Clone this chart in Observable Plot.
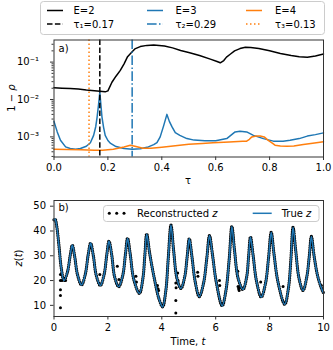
<!DOCTYPE html>
<html><head><meta charset="utf-8">
<script src="https://cdn.jsdelivr.net/npm/d3@7"></script>
<script src="https://cdn.jsdelivr.net/npm/@observablehq/plot@0.6"></script>
<style>
html,body{margin:0;padding:0;background:#fff}
#fig{position:relative;width:333px;height:350px;overflow:hidden;font-family:"DejaVu Sans",sans-serif}
#fig svg{position:absolute;left:0;top:0}
</style></head><body><div id="fig"></div>
<script>
// ---------- Panel a) data : 1 - rho vs tau ----------
const seriesNames = ["E=2", "E=3", "E=4"];
const optTau = [0.17, 0.29, 0.13];
const tauE2 = [0,0.03,0.06,0.09,0.12,0.15,0.17,0.19,0.20,0.215,0.23,0.246,0.26,0.273,0.29,0.30,0.32,0.345,0.37,0.39,0.41,0.44,0.47,0.50,0.54,0.58,0.605,0.617,0.63,0.64,0.655,0.67,0.69,0.71,0.73,0.76,0.80,0.84,0.88,0.91,0.94,0.97,1.0];
const rhoE2 = [0.0205,0.0200,0.0196,0.0192,0.0180,0.0172,0.0166,0.0160,0.0170,0.029,0.042,0.060,0.090,0.140,0.19,0.225,0.26,0.28,0.285,0.28,0.27,0.24,0.205,0.18,0.15,0.12,0.104,0.096,0.110,0.136,0.165,0.200,0.230,0.250,0.245,0.230,0.200,0.170,0.150,0.140,0.135,0.145,0.165];
const tauE3 = [0,0.012,0.024,0.043,0.06,0.08,0.098,0.12,0.135,0.147,0.155,0.16,0.165,0.17,0.175,0.178,0.184,0.19,0.20,0.21,0.23,0.26,0.29,0.32,0.35,0.37,0.382,0.394,0.407,0.419,0.428,0.438,0.45,0.467,0.493,0.52,0.56,0.60,0.641,0.672,0.69,0.715,0.74,0.777,0.814,0.85,0.876,0.91,0.94,0.97,1.0];
const rhoE3 = [2.6e-3,1.36e-3,8.1e-4,5.4e-4,4.9e-4,4.7e-4,4.9e-4,5.6e-4,7.0e-4,1.1e-3,1.9e-3,3.4e-3,7e-3,1.55e-2,6e-3,3.4e-3,1.8e-3,1.1e-3,8.0e-4,6.7e-4,5.5e-4,4.9e-4,4.7e-4,4.8e-4,5.4e-4,6.2e-4,7.0e-4,1.0e-3,2.0e-3,4.0e-3,2.6e-3,1.85e-3,1.3e-3,1.1e-3,9.0e-4,8.2e-4,7.9e-4,7.9e-4,9.0e-4,1.36e-3,1.42e-3,1.36e-3,1.1e-3,9.0e-4,7.7e-4,7.6e-4,8.1e-4,9.0e-4,1.05e-3,1.15e-3,1.28e-3];
const tauE4 = [0,0.05,0.10,0.15,0.18,0.22,0.26,0.283,0.30,0.33,0.36,0.40,0.45,0.50,0.55,0.59,0.65,0.70,0.715,0.725,0.734,0.75,0.765,0.78,0.795,0.81,0.82,0.84,0.864,0.89,0.925,0.96,1.0];
const rhoE4 = [4.7e-4,4.6e-4,4.5e-4,4.4e-4,4.4e-4,4.7e-4,5.4e-4,6.0e-4,5.6e-4,5.0e-4,5.0e-4,5.3e-4,5.8e-4,6.4e-4,6.7e-4,7.0e-4,7.3e-4,7.6e-4,7.7e-4,8.6e-4,1.0e-3,1.05e-3,1.06e-3,1.0e-3,8.1e-4,6.8e-4,6.0e-4,5.7e-4,5.6e-4,5.7e-4,6.3e-4,6.8e-4,7.4e-4];
const xTicksA = [0, 0.2, 0.4, 0.6, 0.8, 1.0];
const yTicksA = [1e-3, 1e-2, 1e-1];

// ---------- Panel b) data : z(t) ----------
const zTime = [0.00,0.04,0.10,0.18,0.27,0.37, 0.50,0.60,0.68,0.77,0.87,1.02, 1.16,1.27,1.36,1.46,1.57,1.72, 1.86,1.96,2.04,2.14,2.25,2.40, 2.55,2.65,2.73,2.83,2.96,3.17, 3.30,3.37,3.44,3.55,3.72,3.90,4.03, 4.15,4.24,4.34,4.44,4.56,4.71, 4.85,4.94,5.02,5.12,5.24,5.39, 5.55,5.67,5.77,5.88,6.02,6.24, 6.38,6.50,6.60,6.70,6.83,7.01, 7.15,7.22,7.29,7.39,7.51,7.69, 7.85,7.96,8.06,8.16,8.31,8.56, 8.70,8.79,8.87,8.97,9.09,9.24, 9.38,9.47,9.55,9.65,9.78,9.92,10.0];
const zTrue = [44.5,44.8,42.0,34.5,25.0,20.0, 23.5,30.0,34.3,29.5,22.5,18.2, 22.5,30.5,35.1,30.0,22.0,18.0, 22.5,30.5,35.9,30.5,21.5,17.5, 22.0,30.5,37.1,30.5,20.5,14.8, 21.0,30.0,38.8,31.0,21.0,12.5,9.4, 16.0,29.0,42.4,32.0,21.0,16.8, 21.5,29.5,36.9,29.5,19.5,13.5, 19.0,29.0,38.2,30.5,19.5,9.8, 16.0,28.5,41.8,32.0,21.0,16.4, 21.5,29.5,37.6,30.0,20.0,13.3, 19.0,29.0,39.5,31.0,19.5,10.4, 17.0,28.5,41.5,32.0,21.0,16.0, 21.5,29.5,37.8,30.0,22.0,17.0,15.0];
const recT = [0.24,0.24,0.24,0.24,0.24,0.30,0.43,1.70,2.35,2.41,3.04,3.06,3.84,3.86,3.88,4.52,4.52,4.52,4.53,4.59,4.60,5.33,5.34,6.14,6.15,6.82,6.83,6.85,6.88,6.87,7.67,8.50,9.92];
const recZ = [22.4,20.0,16.3,14.0,9.0,20.0,20.0,22.4,25.8,20.4,21.7,19.4,18.0,16.7,16.0,12.0,6.9,19.0,17.1,23.0,20.0,23.4,21.7,20.0,18.0,23.8,17.6,16.7,17.1,16.0,19.4,17.6,18.0];
const xTicksB = [0, 2, 4, 6, 8, 10];
const yTicksB = [10, 20, 30, 40, 50];

// ---------- styling ----------
const W = 333, H = 350;
const C = {black: "black", blue: "#1f77b4", orange: "#ff7f0e"};
const colors = [C.black, C.blue, C.orange];
const dashes = ["5.5,2.4", "9.6,2.4,1.5,2.4", "1.5,2.5"];
const axisColor = "#333";
const baseStyle = {fontFamily: "DejaVu Sans", fontSize: "10px", color: "black", background: "none", overflow: "visible"};
const supMap = {"-": "⁻", "0": "⁰", "1": "¹", "2": "²", "3": "³", "4": "⁴", "5": "⁵"};
const fmtPow = d => "10" + String(Math.round(Math.log10(d))).split("").map(c => supMap[c]).join("");
const subMap = ["₁", "₂", "₃"];

const rowsOf = (xs, ys) => xs.map((x, i) => ({x, y: ys[i]}));
const e2 = rowsOf(tauE2, rhoE2), e3 = rowsOf(tauE3, rhoE3), e4 = rowsOf(tauE4, rhoE4);
const yDomA = [2.9e-4, 0.39];
const minorA = [];
for (let e = -4; e <= -1; e++) for (let m = 2; m <= 9; m++) {
  const v = m * Math.pow(10, e);
  if (v >= yDomA[0] && v <= yDomA[1]) minorA.push(v);
}

const plotA = Plot.plot({
  width: W, height: H,
  marginLeft: 53.5, marginRight: 10, marginTop: 39.5, marginBottom: H - 156.5,
  x: {domain: [0, 1]},
  y: {type: "log", domain: yDomA},
  style: baseStyle,
  marks: [
    Plot.line(e2, {x: "x", y: "y", stroke: colors[0], strokeWidth: 1.5}),
    Plot.line(e3, {x: "x", y: "y", stroke: colors[1], strokeWidth: 1.5}),
    Plot.line(e4, {x: "x", y: "y", stroke: colors[2], strokeWidth: 1.5}),
    ...optTau.map((t, i) => Plot.ruleX([t], {stroke: colors[i], strokeWidth: 1.5, strokeDasharray: dashes[i]})),
    Plot.axisX({ticks: xTicksA, tickFormat: d3.format(".1f"), tickSize: 3.5, tickPadding: 3.5, label: null, stroke: axisColor}),
    Plot.axisY({ticks: yTicksA, tickFormat: fmtPow, tickSize: 3.5, tickPadding: 11.5, label: null, stroke: axisColor}),
    Plot.axisY({ticks: minorA, tickFormat: () => "", tickSize: 2, label: null, stroke: axisColor}),
    Plot.frame({stroke: axisColor, strokeWidth: 1})
  ]
});

const truth = rowsOf(zTime, zTrue);
const rec = rowsOf(recT, recZ);
const plotB = Plot.plot({
  width: W, height: H,
  marginLeft: 53.5, marginRight: 10, marginTop: 200, marginBottom: H - 316,
  x: {domain: [0, 10]},
  y: {domain: [5.5, 52.3]},
  style: baseStyle,
  marks: [
    Plot.line(truth, {x: "x", y: "y", stroke: C.black, strokeWidth: 3.3, strokeDasharray: "0,2.3", strokeLinecap: "round", curve: "catmull-rom"}),
    Plot.dot(rec, {x: "x", y: "y", r: 1.5, fill: C.black, stroke: null}),
    Plot.line(truth, {x: "x", y: "y", stroke: C.blue, strokeWidth: 1.6, curve: "catmull-rom"}),
    Plot.axisX({ticks: xTicksB, tickFormat: d3.format("d"), tickSize: 3.5, tickPadding: 3.5, label: null, stroke: axisColor}),
    Plot.axisY({ticks: yTicksB, tickFormat: d3.format("d"), tickSize: 3.5, tickPadding: 4.5, label: null, stroke: axisColor}),
    Plot.frame({stroke: axisColor, strokeWidth: 1})
  ]
});

const fig = document.getElementById("fig");
fig.appendChild(plotA);
fig.appendChild(plotB);

// ---------- overlay: legends, titles, panel labels ----------
const ov = d3.create("svg").attr("width", W).attr("height", H)
  .style("font-family", "DejaVu Sans").style("font-size", "10px");

// top legend
ov.append("rect").attr("x", 40.5).attr("y", 1.5).attr("width", 284).attr("height", 33).attr("rx", 3)
  .attr("fill", "white").attr("fill-opacity", 0.8).attr("stroke", "#ccc");
const colX = [47, 147, 246], txtX = [73.5, 175.5, 275];
seriesNames.forEach((name, i) => {
  ov.append("line").attr("x1", colX[i]).attr("x2", colX[i] + 16).attr("y1", 10.5).attr("y2", 10.5)
    .attr("stroke", colors[i]).attr("stroke-width", 1.5);
  ov.append("text").attr("x", txtX[i]).attr("y", 10.5).attr("dy", "0.35em").text(name);
  ov.append("line").attr("x1", colX[i]).attr("x2", colX[i] + 16).attr("y1", 24).attr("y2", 24)
    .attr("stroke", colors[i]).attr("stroke-width", 1.5).attr("stroke-dasharray", dashes[i]);
  ov.append("text").attr("x", txtX[i]).attr("y", 24).attr("dy", "0.35em")
    .text(`τ${subMap[i]}=${optTau[i].toFixed(2)}`);
});

// panel a labels
ov.append("text").attr("x", 58.5).attr("y", 48).attr("dy", "0.35em").text("a)");
const yl = ov.append("text").attr("transform", "translate(11,98) rotate(-90)").attr("text-anchor", "middle").attr("dy", "0.35em");
yl.append("tspan").text("1 − ");
yl.append("tspan").attr("font-style", "italic").text("ρ");
ov.append("text").attr("x", 188).attr("y", 180).attr("text-anchor", "middle").attr("dy", "0.35em").text("τ");

// bottom legend
ov.append("rect").attr("x", 103.5).attr("y", 205.5).attr("width", 215.5).attr("height", 16).attr("rx", 3)
  .attr("fill", "white").attr("fill-opacity", 0.8).attr("stroke", "#ccc");
[109.3, 116.7, 124].forEach(x => ov.append("circle").attr("cx", x).attr("cy", 213.3).attr("r", 1.5).attr("fill", "black"));
const l1 = ov.append("text").attr("x", 137).attr("y", 213.3).attr("dy", "0.35em");
l1.append("tspan").text("Reconstructed ");
l1.append("tspan").attr("font-style", "italic").text("z");
ov.append("line").attr("x1", 252.7).attr("x2", 271.7).attr("y1", 213.3).attr("y2", 213.3).attr("stroke", C.blue).attr("stroke-width", 1.5);
const l2 = ov.append("text").attr("x", 281.7).attr("y", 213.3).attr("dy", "0.35em");
l2.append("tspan").text("True ");
l2.append("tspan").attr("font-style", "italic").text("z");

// panel b labels
ov.append("text").attr("x", 58.5).attr("y", 207.5).attr("dy", "0.35em").text("b)");
const yl2 = ov.append("text").attr("transform", "translate(18,258) rotate(-90)").attr("text-anchor", "middle").attr("dy", "0.35em");
yl2.append("tspan").attr("font-style", "italic").text("z");
yl2.append("tspan").text("(");
yl2.append("tspan").attr("font-style", "italic").text("t");
yl2.append("tspan").text(")");
const xl2 = ov.append("text").attr("x", 188).attr("y", 341).attr("text-anchor", "middle").attr("dy", "0.35em");
xl2.append("tspan").text("Time, ");
xl2.append("tspan").attr("font-style", "italic").text("t");

fig.appendChild(ov.node());
</script></body></html>
